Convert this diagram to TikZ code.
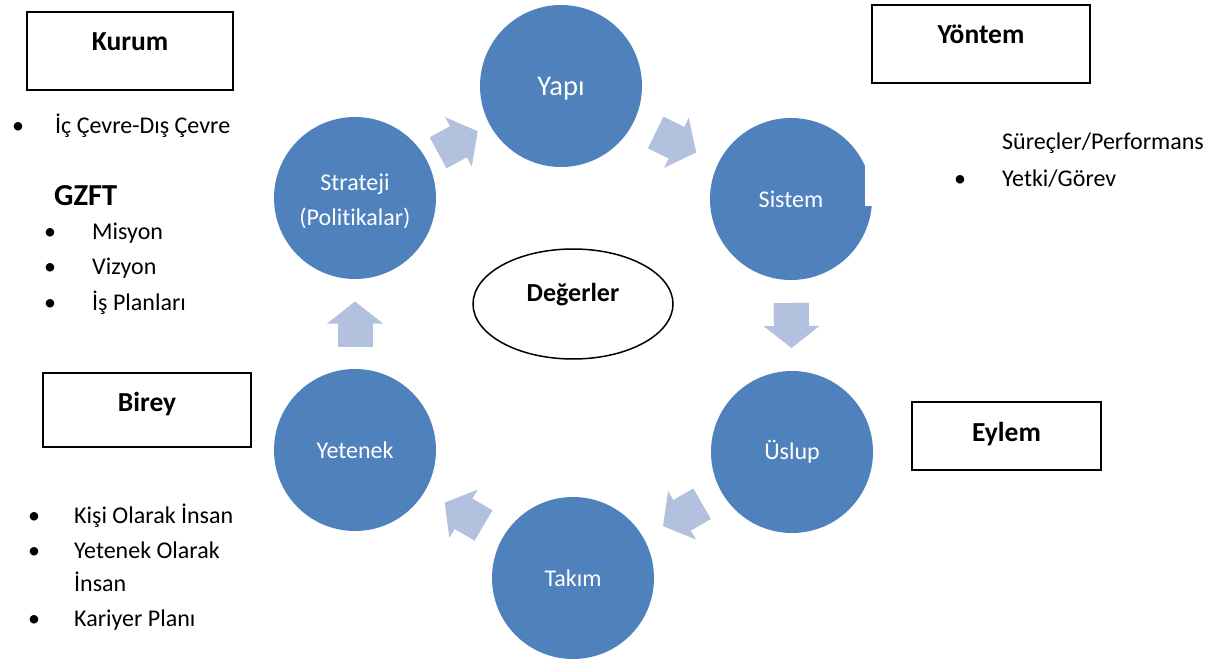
\documentclass[tikz,border=0pt]{standalone}
\usepackage{fontspec}
\setmainfont[Ligatures=NoCommon]{Carlito}
\usetikzlibrary{calc,arrows.meta,shapes.geometric}
\definecolor{circblue}{RGB}{79,129,189}
\definecolor{arrblue}{RGB}{178,193,221}
\newcommand\cycarr[2]{%
  \draw[shaftline] ($(#1)!0.5!(#2)!-22.5pt!(#2)$) -- ($(#1)!0.5!(#2)!4pt!(#2)$);
  \draw[barrow] ($(#1)!0.5!(#2)!-22.5pt!(#2)$) -- ($(#1)!0.5!(#2)!22.5pt!(#2)$);}
\newcommand\lowerby[2]{\raisebox{0pt}[\dimexpr\height+#1\relax][\depth]{#2}}
\begin{document}
\begin{tikzpicture}[x=1pt,y=-1pt,
  circ/.style={circle, fill=circblue, draw=none, minimum size=162pt, inner sep=0pt, text=white, align=center, font=\fontsize{24}{35}\selectfont},
  hbox/.style={draw=black, line width=1.5pt, inner sep=0pt, text height=18pt, font=\bfseries\fontsize{27.5}{33}\selectfont},
  txt/.style={anchor=base west, inner sep=0pt, font=\fontsize{24}{28}\selectfont},
  shaftline/.style={draw=arrblue, line width=35pt},
  barrow/.style={draw=arrblue, line width=35pt, -{Triangle[length=22pt,width=56pt,line width=0pt]}},
]
\useasboundingbox (0,0) rectangle (1218,660);

% cycle circles
\node[circ] (yapi) at (561,86) {\lowerby{6pt}{\fontsize{28.5}{34}\selectfont Yapı}};
\node[circ] (sistem) at (791,199) {Sistem};
\node[circ] (uslup) at (792,452) {Üslup};
\node[circ] (takim) at (573,578) {Takım};
\node[circ] (yetenek) at (355,450) {Yetenek};
\node[circ] (strateji) at (355,198) {\lowerby{7pt}{\begin{tabular}{@{}c@{}}Strateji\\(Politikalar)\end{tabular}}};
\fill[white] (865,150) rectangle (875,206);

% cycle arrows
\cycarr{strateji}{yapi}
\cycarr{yapi}{sistem}
\cycarr{sistem}{uslup}
\cycarr{uslup}{takim}
\cycarr{takim}{yetenek}
\cycarr{yetenek}{strateji}

% centre ellipse
\node[ellipse, draw=black, line width=1.5pt, minimum width=200pt, minimum height=110pt, inner sep=0pt, text height=17pt, text depth=22pt, font=\bfseries\fontsize{26}{31}\selectfont] (deger) at (573,304) {Değerler};

% heading boxes
\node[hbox, minimum width=206pt, minimum height=78pt, text depth=18pt] (kurum) at (130,51) {Kurum};
\node[hbox, minimum width=218pt, minimum height=78pt, text depth=18pt] (yontem) at (981,44) {Yöntem};
\node[hbox, minimum width=208pt, minimum height=74pt, text depth=15pt] (birey) at (147,410) {Birey};
\node[hbox, minimum width=189pt, minimum height=68pt, text depth=7pt] (eylem) at (1006.5,436) {Eylem};

% lists
\node[txt] (k1) at (12,134) {\makebox[43pt][l]{•}İç Çevre-Dış Çevre};
\node[txt, font=\bfseries\fontsize{30.5}{34}\selectfont] (gzft) at (54,206) {GZFT};
\node[txt] (k2) at (44,240) {\makebox[48pt][l]{•}Misyon};
\node[txt] (k3) at (44,275) {\makebox[48pt][l]{•}Vizyon};
\node[txt] (k4) at (44,310) {\makebox[48pt][l]{•}İş Planları};
\node[txt] (b1) at (28,523) {\makebox[46pt][l]{•}Kişi Olarak İnsan};
\node[txt] (b2) at (28,558) {\makebox[46pt][l]{•}Yetenek Olarak};
\node[txt] (b3) at (74,591) {İnsan};
\node[txt] (b4) at (28,626) {\makebox[46pt][l]{•}Kariyer Planı};
\node[txt] (y1) at (1002,150) {Süreçler/Performans};
\node[txt] (y2) at (954,187) {\makebox[48pt][l]{•}Yetki/Görev};
\end{tikzpicture}
\end{document}
